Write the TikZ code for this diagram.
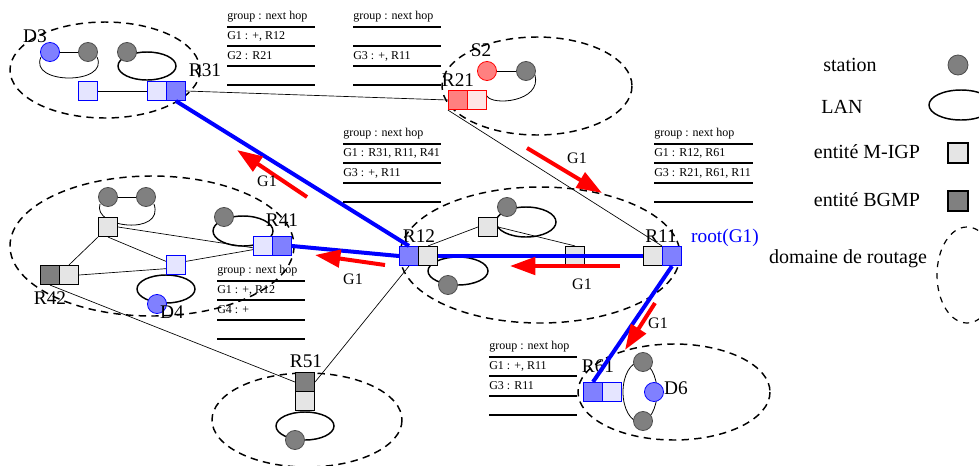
\documentclass[tikz,border=0pt]{standalone}
\usepackage{fontspec}
\setmainfont{Liberation Serif}
\usetikzlibrary{arrows.meta}
\pgfdeclarelayer{bg}
\pgfsetlayers{bg,main}

\definecolor{stgrey}{HTML}{808080}
\definecolor{igpgrey}{HTML}{E5E5E5}
\definecolor{midblue}{HTML}{8080FF}
\definecolor{paleblue}{HTML}{E5E5FF}
\definecolor{midred}{HTML}{FF8080}
\definecolor{palered}{HTML}{FFE5E5}

\tikzset{
  box/.style={rectangle, minimum size=14.3pt, inner sep=0pt, line width=0.8pt},
  igp/.style={box, draw=black, fill=igpgrey},
  bgmp/.style={box, draw=black, fill=stgrey},
  igpb/.style={box, draw=blue, fill=paleblue},
  bgmpb/.style={box, draw=blue, fill=midblue},
  igpr/.style={box, draw=red, fill=palered},
  bgmpr/.style={box, draw=red, fill=midred},
  host/.style={circle, minimum size=14.3pt, inner sep=0pt, line width=0.6pt, draw=black!70, fill=stgrey},
  hostb/.style={host, draw=blue, fill=midblue},
  hostr/.style={host, draw=red, fill=midred},
  lan/.style={line width=1.1pt},
  lanthin/.style={line width=0.6pt},
  rdomain/.style={line width=1.1pt, dash pattern=on 5.5pt off 4pt},
  link/.style={line width=0.5pt},
  tree/.style={draw=blue, line width=3pt},
  flow/.style={draw=red, line width=3pt, -{Triangle[length=19pt,width=13pt]}},
  lbl/.style={font=\fontsize{14.5}{16}\selectfont, inner sep=0pt},
  glbl/.style={font=\fontsize{12}{14}\selectfont, inner sep=0pt},
  leg/.style={font=\fontsize{15}{17}\selectfont, inner sep=0pt},
  tab/.style={font=\fontsize{9}{10}\selectfont, inner sep=0pt, anchor=west},
  rulebar/.style={line width=1.5pt},
}

% routing table: name, x, y of header, width, first row, second row
\newcommand\hoptable[6]{%
  \node[tab] (#1h) at (#2,#3) {group : next hop};
  \node[tab] (#1a) at (#2,#3+19.5) {#5};
  \node[tab] (#1b) at (#2,#3+39) {#6};
  \foreach \dy in {9.5,29,48.5,68} \draw[rulebar] (#2,#3+\dy) -- ++(#4,0);
}

\begin{document}
\begin{tikzpicture}[x=0.75pt,y=-0.75pt]
\useasboundingbox (0,0) rectangle (979,465);
\clip (0,0) rectangle (979,465);

% ---- domain D3 / R31
\node[hostb] (d3h) at (50,52) {};
\node[host] (d3g1) at (88,52) {};
\node[host] (d3g2) at (127,52) {};
\node[igpb] (d3sq) at (88,91) {};
\node[igpb] (r31a) at (157,91) {};
\node[bgmpb] (r31b) at (176,91) {};
\node[lbl] (d3l) at (35,36) {D3};
\node[lbl] (r31l) at (205,70) {R31};

% ---- domain S2 / R21
\node[hostr] (s2h) at (487,71) {};
\node[host] (s2g) at (526,71) {};
\node[bgmpr] (r21a) at (458,100) {};
\node[igpr] (r21b) at (477,100) {};
\node[lbl] (s2l) at (481,50) {S2};
\node[lbl] (r21l) at (458,80) {R21};

% ---- domain R41 / R42
\node[host] (lg1) at (108,197) {};
\node[host] (lg2) at (146,197) {};
\node[igp] (gsq) at (108,227) {};
\node[igpb] (bsq) at (176,265) {};
\node[bgmp] (r42a) at (50,275) {};
\node[igp] (r42b) at (69,275) {};
\node[igpb] (r41a) at (263,246) {};
\node[bgmpb] (r41b) at (282,246) {};
\node[host] (r41h) at (224,217) {};
\node[hostb] (d4h) at (157,304) {};
\node[lbl] (r41l) at (282,220) {R41};
\node[lbl] (r42l) at (50,298) {R42};
\node[lbl] (d4l) at (172,312) {D4};

% ---- domain R12 / R11
\node[bgmpb] (r12a) at (409,256) {};
\node[igp] (r12b) at (428,256) {};
\node[igp] (r11a) at (653,256) {};
\node[bgmpb] (r11b) at (672,256) {};
\node[igp] (usq) at (488,227) {};
\node[igp] (lsq) at (575,256) {};
\node[host] (uh) at (507,207) {};
\node[host] (lh) at (448,285) {};
\node[lbl] (r12l) at (419,236) {R12};
\node[lbl] (r11l) at (661,236) {R11};
\node[lbl, text=blue] (rootl) at (725,238) {root(G1)};

% ---- domain R51
\node[bgmp] (r51a) at (305,382) {};
\node[igp] (r51b) at (305,401) {};
\node[host] (r51h) at (295,440) {};
\node[lbl] (r51l) at (306,361) {R51};

% ---- domain R61 / D6
\node[bgmpb] (r61a) at (593,392) {};
\node[igpb] (r61b) at (612,392) {};
\node[host] (r61g1) at (643,362) {};
\node[host] (r61g2) at (643,421) {};
\node[hostb] (d6h) at (654,392) {};
\node[lbl] (r61l) at (598,366) {R61};
\node[lbl] (d6l) at (676,388) {D6};

% ---- domains, links and LANs behind the entities
\begin{pgfonlayer}{bg}
  \draw[rdomain] (105,70) ellipse [x radius=95, y radius=48];
  \draw[rdomain] (537,86) ellipse [x radius=95, y radius=49];
  \draw[rdomain] (152,246) ellipse [x radius=142, y radius=70];
  \draw[rdomain] (540,255) ellipse [x radius=140, y radius=68];
  \draw[rdomain] (307,420) ellipse [x radius=95, y radius=47];
  \draw[rdomain] (674,392) ellipse [x radius=96, y radius=48];

  \draw[link] (d3sq) -- (r31a);
  \draw[link] (r31b.east) -- (r21a.west);
  \draw[link] (r21a.south west) -- (r11b.north west);
  \draw[link] (r12a.south) -- (r51a.east);
  \draw[link] (r42a.south) -- (r51a.west);
  \draw[link] (r12b.north) -- (usq.west);
  \draw[link] (usq.east) -- (lsq.north);
  \draw[link] (gsq.east) -- (r41a.190);
  \draw[link] (gsq.south) -- (bsq.160);
  \draw[link] (gsq.south west) -- (r42b.north);
  \draw[link] (r42b.east) -- (bsq.200);
  \draw[link] (bsq.20) -- (r41a.200);

  \draw[lanthin] (d3h) -- (d3g1);
  \draw[lanthin] (41,57) .. controls (28,85) and (110,85) .. (97,57);
  \draw[lan] (147,66) ellipse [x radius=29, y radius=14];
  \draw[lanthin] (s2h) -- (s2g);
  \draw[lanthin] (535,75) .. controls (542,102) and (492,106) .. (487,96);
  \draw[lanthin] (lg1) -- (lg2);
  \draw[lanthin] (100,204) .. controls (92,228) and (165,236) .. (154,204);
  \draw[lan] (243,231) ellipse [x radius=30, y radius=15];
  \draw[lan] (166,289) ellipse [x radius=29, y radius=14];
  \draw[lan] (526,222) ellipse [x radius=30, y radius=15];
  \draw[lan] (458,271) ellipse [x radius=30, y radius=14];
  \draw[lan] (305,426) ellipse [x radius=29, y radius=14];
  \draw[lanthin] (640,392) ellipse [x radius=17, y radius=30];
\end{pgfonlayer}

% ---- shared tree of group G1
\draw[tree] (r31b.south) -- (r12a.north);
\draw[tree] (r41b.east) -- (r12a.west);
\draw[tree] (r12b.east) -- (r11a.west);
\draw[tree] (r11b.south) -- (r61a.north);

% ---- data flow of G1
\coordinate (f1s) at (307,197); \coordinate (f1e) at (237,150);
\coordinate (f2s) at (527,148); \coordinate (f2e) at (602,193);
\coordinate (f3s) at (385,265); \coordinate (f3e) at (315,255);
\coordinate (f4s) at (620,266); \coordinate (f4e) at (510,266);
\coordinate (f5s) at (655,303); \coordinate (f5e) at (625,350);
\draw[flow] (f1s) -- (f1e);
\draw[flow] (f2s) -- (f2e);
\draw[flow] (f3s) -- (f3e);
\draw[flow] (f4s) -- (f4e);
\draw[flow] (f5s) -- (f5e);
\node[glbl] (g1a) at (267,181) {G1};
\node[glbl] (g1b) at (577,158) {G1};
\node[glbl] (g1c) at (353,279) {G1};
\node[glbl] (g1d) at (582,284) {G1};
\node[glbl] (g1e) at (658,323) {G1};

% ---- routing tables
\hoptable{tr31}{227}{17}{88}{G1 : +, R12}{G2 : R21}
\hoptable{tr21}{353}{17}{88}{}{G3 : +, R11}
\hoptable{tr12}{343}{134}{98}{G1 : R31, R11, R41}{G3 : +, R11}
\hoptable{tr11}{654}{134}{99}{G1 : R12, R61}{G3 : R21, R61, R11}
\hoptable{tr41}{217}{271}{88}{G1 : +, R12}{G4 : +}
\hoptable{tr61}{489}{347}{88}{G1 : +, R11}{G3 : R11}

% ---- legend
\node[leg] (kst) at (850,65) {station};
\node[host, minimum size=15pt] (kstc) at (958,65) {};
\node[leg] (klan) at (842,107) {LAN};
\draw[lan] (961,105) ellipse [x radius=32, y radius=15];
\node[leg] (kigp) at (867,152) {entité M-IGP};
\node[igp, minimum size=15pt] (kigps) at (958,153) {};
\node[leg] (kbgmp) at (867,200) {entité BGMP};
\node[bgmp, minimum size=15pt] (kbgmps) at (958,201) {};
\node[leg] (kdom) at (848,259) {domaine de routage};
\draw[line width=0.9pt, dash pattern=on 4.5pt off 4.5pt] (967,275) ellipse [x radius=30, y radius=48];
\end{tikzpicture}
\end{document}
